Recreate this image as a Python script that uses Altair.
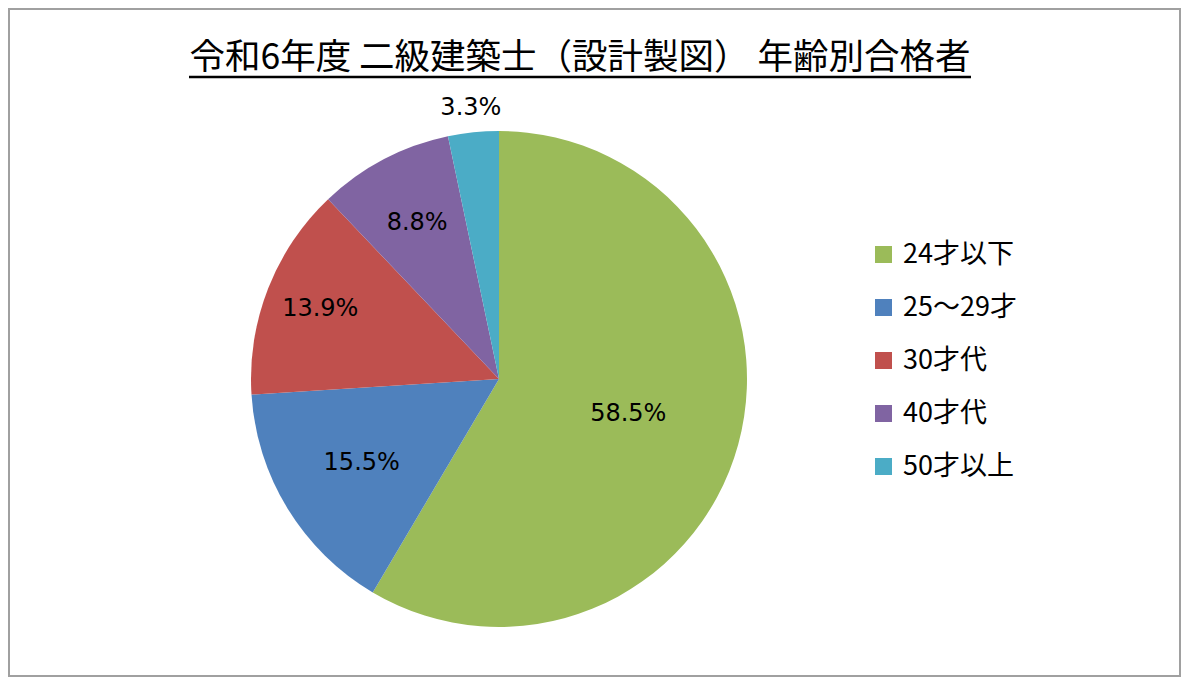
import altair as alt
import pandas as pd

title_text = "令和6年度 二級建築士（設計製図） 年齢別合格者"
categories = ["24才以下", "25～29才", "30才代", "40才代", "50才以上"]
shares = [58.5, 15.5, 13.9, 8.8, 3.3]
colors = ["#9BBB59", "#4F81BD", "#C0504D", "#8064A2", "#4BACC6"]

df = pd.DataFrame({
    "cat": categories,
    "share": shares,
    "idx": list(range(len(categories))),
    "label": [f"{v:.1f}%" for v in shares],
})
tdf = pd.DataFrame({"t": [title_text]})

CX, CY, R = 490, 370, 248

pie = alt.Chart(df).mark_arc(x=CX, y=CY, outerRadius=R).encode(
    theta=alt.Theta("share:Q", stack=True, scale=alt.Scale(domain=[0, 100])),
    order=alt.Order("idx:Q"),
    color=alt.Color(
        "cat:N",
        scale=alt.Scale(domain=categories, range=colors),
        legend=alt.Legend(
            title=None,
            orient="none",
            legendX=861,
            legendY=232,
            symbolType="square",
            symbolSize=289,
            symbolStrokeWidth=0,
            labelFont="Noto Sans CJK JP",
            labelFontSize=27,
            labelColor="#000000",
            labelOffset=6,
            rowPadding=25,
            padding=0,
        ),
    ),
)

labels = alt.Chart(df).transform_window(
    cum="sum(share)", sort=[alt.SortField("idx")]
).transform_calculate(
    mid="datum.cum - datum.share / 2",
    r="datum.share > 50 ? 134 : (datum.share < 5 ? 272 : (datum.share > 15 ? 161 : (datum.share > 10 ? 192 : 176)))",
).mark_text(
    x=CX, y=CY, font="DejaVu Sans", fontSize=24, color="#000000", baseline="middle", align="center"
).encode(
    theta=alt.Theta("mid:Q", stack=False, scale=alt.Scale(domain=[0, 100])),
    radius=alt.Radius("r:Q", scale=None),
    text="label:N",
)

title = alt.Chart(tdf).mark_text(
    font="Noto Sans CJK JP", fontSize=35.5, color="#000000", baseline="middle", align="center"
).encode(
    x=alt.value(571), y=alt.value(49), text="t:N"
)

underline = alt.Chart(tdf).mark_rule(color="#000000", strokeWidth=2.5).encode(
    x=alt.value(180), x2=alt.value(962), y=alt.value(68)
)

chart = alt.layer(pie, labels, title, underline).properties(
    width=1173,
    height=669,
    padding=1,
    autosize=alt.AutoSizeParams(type="fit", contains="padding"),
).configure_view(
    stroke="#A0A0A0", strokeWidth=2
)

chart.save("out.html", embed_options={"renderer": "svg", "actions": False})
